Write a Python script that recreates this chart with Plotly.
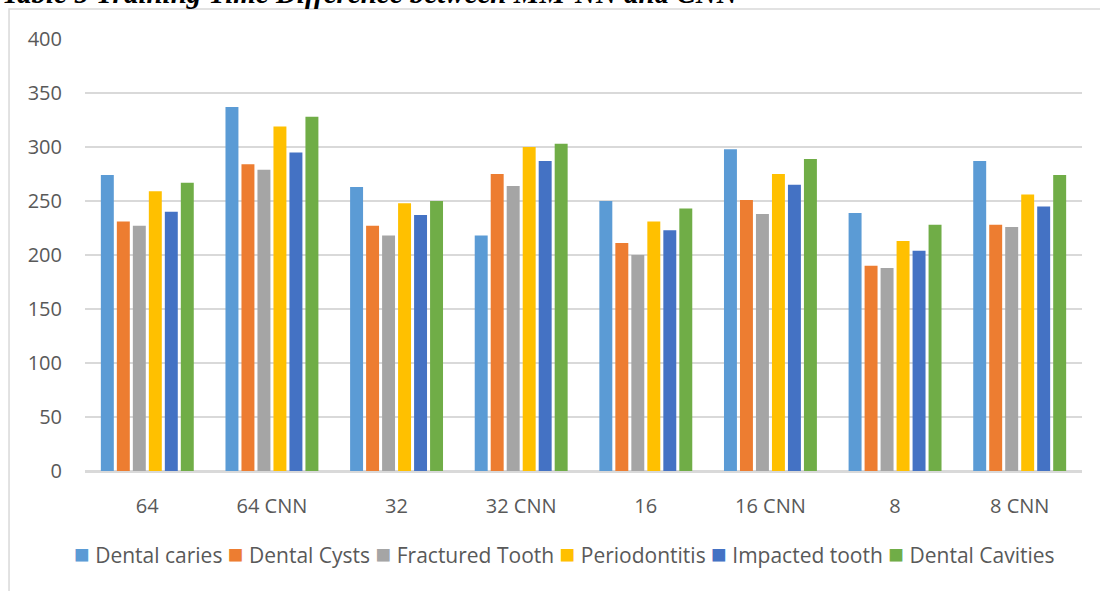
import plotly.graph_objects as go

# Categories (batch size, with/without CNN)
categories = ["64", "64 CNN", "32", "32 CNN", "16", "16 CNN", "8", "8 CNN"]

# Training time per disease class
dental_caries = [274, 337, 263, 218, 250, 298, 239, 287]
dental_cysts = [231, 284, 227, 275, 211, 251, 190, 228]
fractured_tooth = [227, 279, 218, 264, 200, 238, 188, 226]
periodontitis = [259, 319, 248, 300, 231, 275, 213, 256]
impacted_tooth = [240, 295, 237, 287, 223, 265, 204, 245]
dental_cavities = [267, 328, 250, 303, 243, 289, 228, 274]

series_names = ["Dental caries", "Dental Cysts", "Fractured Tooth",
                "Periodontitis", "Impacted tooth", "Dental Cavities"]
series_values = [dental_caries, dental_cysts, fractured_tooth,
                 periodontitis, impacted_tooth, dental_cavities]
colors = ["#5B9BD5", "#ED7D31", "#A5A5A5", "#FFC000", "#4472C4", "#70AD47"]

y_ticks = [0, 50, 100, 150, 200, 250, 300, 350, 400]

title_text = "Table 5 Training Time Difference between MM-NN and CNN"

TEXT_COLOR = "#595959"
GRID_COLOR = "#D9D9D9"
FONT = "Open Sans"

fig = go.Figure()
for name, vals, col in zip(series_names, series_values, colors):
    fig.add_trace(go.Bar(
        x=categories, y=vals, name=name,
        marker=dict(color=col, line=dict(width=0)),
        showlegend=False,
    ))

# Legend row drawn as one rich-text annotation
legend_parts = []
for name, col in zip(series_names, colors):
    legend_parts.append(
        f"<span style='color:{col};font-size:26px'>■</span> {name}"
    )
legend_text = " ".join(legend_parts)

fig.add_annotation(
    text=legend_text, xref="paper", yref="paper",
    x=0.4814, y=-0.19, xanchor="center", yanchor="middle",
    showarrow=False, font=dict(family=FONT, size=21, color=TEXT_COLOR),
)

# Caption above the chart frame
fig.add_annotation(
    text=f"<b><i>{title_text}</i></b>", xref="paper", yref="paper",
    x=-0.0853, y=1.1065, xanchor="left", yanchor="middle",
    showarrow=False, font=dict(family="Liberation Serif", size=29, color="#000000"),
)

# Chart frame
fig.add_shape(
    type="rect", xref="paper", yref="paper",
    x0=-0.0762, x1=1.05, y0=-0.35, y1=1.0694,
    line=dict(color=GRID_COLOR, width=1.5), fillcolor="rgba(0,0,0,0)",
    layer="below",
)

fig.update_layout(
    width=1100, height=591,
    margin=dict(l=85, r=18, t=39, b=120),
    paper_bgcolor="white", plot_bgcolor="white",
    barmode="group", bargap=0.23, bargroupgap=0.19,
    font=dict(family=FONT, size=20, color=TEXT_COLOR),
    xaxis=dict(
        type="category", showgrid=False, showline=True,
        linecolor=GRID_COLOR, linewidth=1.5,
        ticks="", ticklabelstandoff=16,
        tickfont=dict(family=FONT, size=20, color=TEXT_COLOR),
    ),
    yaxis=dict(
        range=[0, 400], tickvals=y_ticks,
        showgrid=True, gridcolor=GRID_COLOR, gridwidth=1.5,
        zeroline=True, zerolinecolor=GRID_COLOR, zerolinewidth=1.5,
        showline=False, ticks="", ticklabelstandoff=22,
        tickfont=dict(family=FONT, size=20, color=TEXT_COLOR),
    ),
)

fig.write_html("out.html")
